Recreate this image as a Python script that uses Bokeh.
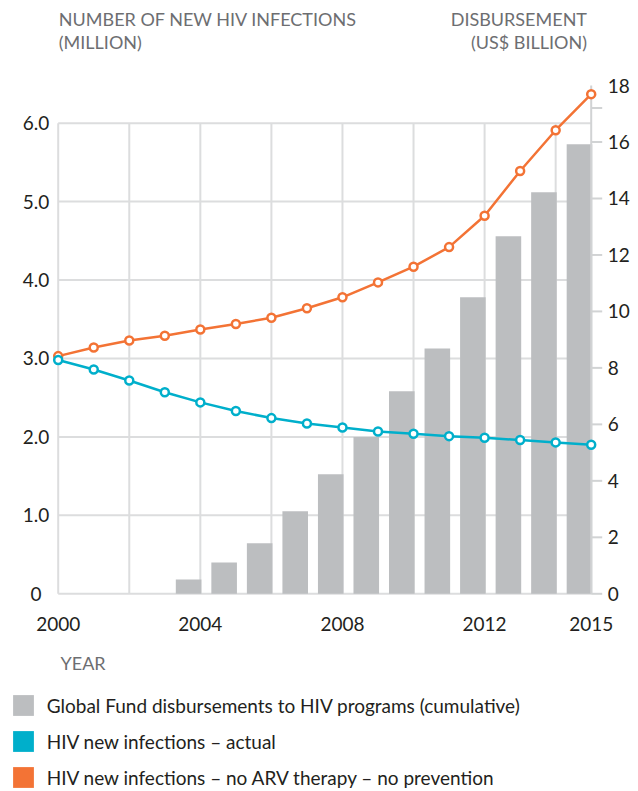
from bokeh.plotting import figure
from bokeh.models import (Range1d, Label, LabelSet, Legend, LegendItem, ColumnDataSource)
from bokeh.core.properties import value
from bokeh.transform import dodge
from bokeh.embed import file_html
from bokeh.resources import INLINE

# ---- data ----
YEARS = list(range(2000, 2016))
NO_ARV = [3.03, 3.14, 3.23, 3.29, 3.37, 3.44, 3.52, 3.64, 3.78, 3.97, 4.17, 4.42, 4.82, 5.39, 5.91, 6.37]
ACTUAL = [2.98, 2.86, 2.72, 2.57, 2.44, 2.33, 2.24, 2.17, 2.12, 2.07, 2.04, 2.01, 1.99, 1.96, 1.93, 1.90]
BAR_YEARS = list(range(2004, 2016))
DISB = [0.51, 1.11, 1.79, 2.92, 4.23, 5.55, 7.17, 8.69, 10.5, 12.66, 14.22, 15.92]
XTICKS = [2000, 2004, 2008, 2012, 2015]
XTICK_LABELS = ["2000", "2004", "2008", "2012", "2015"]
GRID_YEARS = [2000, 2002, 2004, 2006, 2008, 2010, 2012, 2014]
LEFT_TICKS = [0, 1, 2, 3, 4, 5, 6]
LEFT_LABELS = ["0", "1.0", "2.0", "3.0", "4.0", "5.0", "6.0"]
RIGHT_TICKS = [0, 2, 4, 6, 8, 10, 12, 14, 16, 18]
RIGHT_LABELS = ["0", "2", "4", "6", "8", "10", "12", "14", "16", "18"]
RIGHT_TICK_MARKS = [0, 2, 4, 6, 8, 10, 12, 14, 16, 17.2]
LEFT_TITLE = ["NUMBER OF NEW HIV INFECTIONS", "(MILLION)"]
RIGHT_TITLE = ["DISBURSEMENT", "(US$ BILLION)"]
X_TITLE = "YEAR"
LEGEND_LABELS = ["Global Fund disbursements to HIV programs (cumulative)",
                 "HIV new infections \u2013 actual",
                 "HIV new infections \u2013 no ARV therapy \u2013 no prevention"]

# ---- style / layout ----
GRAY = "#BCBEC0"
CYAN = "#00AFCB"
ORANGE = "#F37335"
GRID = "#DCDDDE"
AXIS = "#D1D3D4"
DARK = "#231F20"
MID = "#6D6E71"
FONT = "Lato"
FS_TITLE = "18px"
FS_TICK = "19px"
FS_LEG = "19px"

W, H = 638, 791
PX_X0, PX_X1 = 57.7, 590.7        # pixel columns of first / last year
PX_Y0, PX_YTOP = 593.3, 85.0      # pixel rows of value 0 and of right-axis top
LEFT_TOP, RIGHT_TOP = 6.48, 18.0
TICK_LEN = 11                     # right-axis tick length in px

ppy = (PX_X1 - PX_X0) / (YEARS[-1] - YEARS[0])
ppl = (PX_Y0 - PX_YTOP) / LEFT_TOP
ppr = (PX_Y0 - PX_YTOP) / RIGHT_TOP

p = figure(width=W, height=H, output_backend="svg", toolbar_location=None,
           title=None, x_axis_location=None, y_axis_location=None,
           x_range=Range1d(YEARS[0] - PX_X0 / ppy, YEARS[-1] + (W - PX_X1) / ppy),
           y_range=Range1d(-(H - PX_Y0) / ppl, PX_Y0 / ppl),
           min_border=0, min_border_left=0, min_border_right=0,
           min_border_top=0, min_border_bottom=0)
p.extra_y_ranges = {"right": Range1d(-(H - PX_Y0) / ppr, PX_Y0 / ppr)}
p.outline_line_color = None
p.background_fill_color = "white"
p.border_fill_color = "white"
p.grid.visible = False

# grid lines
p.segment(x0=GRID_YEARS, x1=GRID_YEARS, y0=[LEFT_TICKS[0]] * len(GRID_YEARS),
          y1=[LEFT_TICKS[-1]] * len(GRID_YEARS), line_color=GRID, line_width=2)
p.segment(x0=[YEARS[0]] * len(LEFT_TICKS), x1=[YEARS[-1]] * len(LEFT_TICKS),
          y0=LEFT_TICKS, y1=LEFT_TICKS, line_color=GRID, line_width=2)

# bars
bar_src = ColumnDataSource(dict(year=BAR_YEARS, disb=DISB))
bars = p.vbar(x=dodge("year", -0.33, range=p.x_range), top="disb", width=0.72,
              bottom=0, source=bar_src, y_range_name="right",
              fill_color=GRAY, line_color=None)

# right axis: line, tick marks, labels (at the last year)
p.segment(x0=[YEARS[-1]], x1=[YEARS[-1]], y0=[RIGHT_TICKS[0]], y1=[RIGHT_TICKS[-1]],
          y_range_name="right", line_color=AXIS, line_width=2)
n = len(RIGHT_TICK_MARKS)
p.segment(x0=[YEARS[-1]] * n, x1=[YEARS[-1] + TICK_LEN / ppy] * n,
          y0=RIGHT_TICK_MARKS, y1=RIGHT_TICK_MARKS,
          y_range_name="right", line_color=AXIS, line_width=2)
rsrc = ColumnDataSource(dict(y=RIGHT_TICKS, t=RIGHT_LABELS))
p.add_layout(LabelSet(x=PX_X1 + 16.5, x_units="screen", y="y", y_range_name="right",
                      text="t", source=rsrc, text_align="left", text_baseline="middle",
                      text_font=value(FONT), text_font_size=value(FS_TICK),
                      text_color=DARK))

# lines
src = ColumnDataSource(dict(year=YEARS, no_arv=NO_ARV, actual=ACTUAL))
p.line("year", "no_arv", source=src, line_color=ORANGE, line_width=2.5)
p.scatter("year", "no_arv", source=src, size=8, fill_color="white",
          line_color=ORANGE, line_width=2.5)
p.line("year", "actual", source=src, line_color=CYAN, line_width=2.5)
p.scatter("year", "actual", source=src, size=8, fill_color="white",
          line_color=CYAN, line_width=2.5)

# left tick labels
lsrc = ColumnDataSource(dict(y=LEFT_TICKS, t=LEFT_LABELS))
p.add_layout(LabelSet(x=35.5, x_units="screen", y="y", text="t", source=lsrc,
                      text_align="center", text_baseline="middle",
                      text_font=value(FONT), text_font_size=value(FS_TICK),
                      text_color=DARK))
# bottom (year) tick labels
xsrc = ColumnDataSource(dict(x=XTICKS, t=XTICK_LABELS))
p.add_layout(LabelSet(x="x", y=H - 623, y_units="screen", text="t", source=xsrc,
                      text_align="center", text_baseline="middle",
                      text_font=value(FONT), text_font_size=value(FS_TICK),
                      text_color=DARK))

# titles
for txt, base in zip(LEFT_TITLE, [18.5, 41.5]):
    p.add_layout(Label(x=58.3, y=H - base, x_units="screen", y_units="screen", text=txt,
                       text_font=FONT, text_font_size=FS_TITLE, text_color=MID,
                       text_baseline="alphabetic", text_align="left"))
for txt, base in zip(RIGHT_TITLE, [18.5, 41.5]):
    p.add_layout(Label(x=586.5, y=H - base, x_units="screen", y_units="screen", text=txt,
                       text_font=FONT, text_font_size=FS_TITLE, text_color=MID,
                       text_baseline="alphabetic", text_align="right"))
p.add_layout(Label(x=60, y=H - 662.5, x_units="screen", y_units="screen", text=X_TITLE,
                   text_font=FONT, text_font_size=FS_TITLE, text_color=MID,
                   text_baseline="alphabetic", text_align="left"))

# legend (solid squares); colour keys share the bar source but stay hidden
key_c = p.vbar(x=dodge("year", -0.33, range=p.x_range), top="disb", width=0.72,
               source=bar_src, y_range_name="right", fill_color=CYAN,
               line_color=None, visible=False)
key_o = p.vbar(x=dodge("year", -0.33, range=p.x_range), top="disb", width=0.72,
               source=bar_src, y_range_name="right", fill_color=ORANGE,
               line_color=None, visible=False)
legend = Legend(items=[LegendItem(label=LEGEND_LABELS[0], renderers=[bars]),
                       LegendItem(label=LEGEND_LABELS[1], renderers=[key_c]),
                       LegendItem(label=LEGEND_LABELS[2], renderers=[key_o])],
                location=(9.7, 0.8), orientation="vertical",
                glyph_width=26, glyph_height=26, spacing=10, padding=0, margin=0,
                label_standoff=11, label_text_font=FONT, label_text_font_size=FS_LEG,
                label_text_color=DARK, border_line_color=None,
                background_fill_alpha=0)
p.add_layout(legend, "center")

open("out.html", "w").write(file_html(p, INLINE))
